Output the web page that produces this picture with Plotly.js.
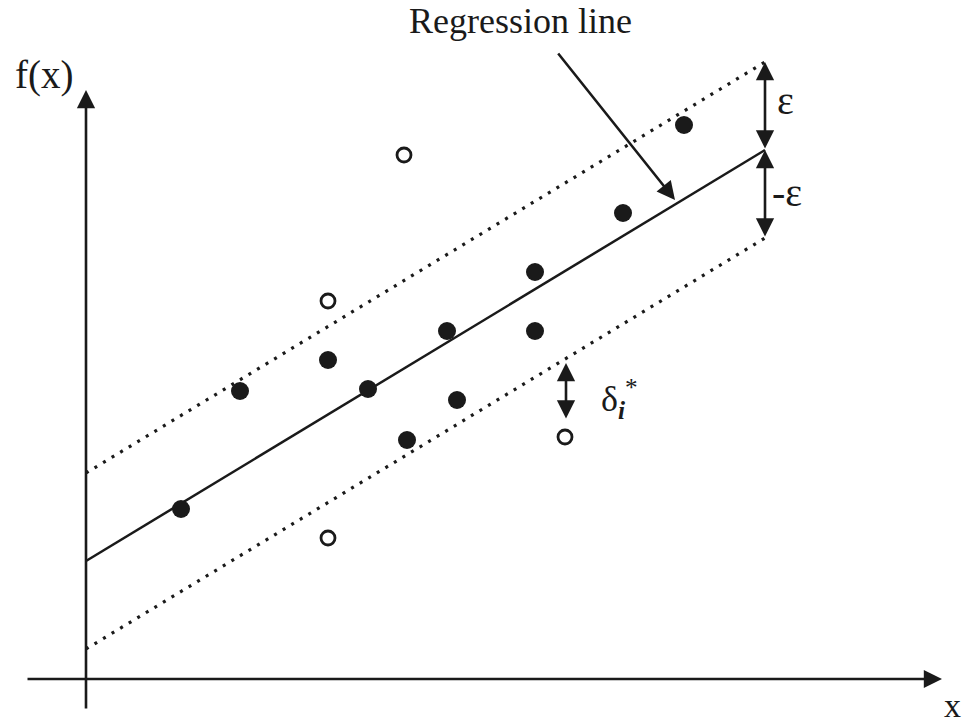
<!DOCTYPE html>
<html>
<head>
<meta charset="utf-8">
<script src="https://cdn.plot.ly/plotly-3.0.1.min.js"></script>
<style>html,body{margin:0;padding:0;background:#fff;}#chart{width:969px;height:727px;}</style>
</head>
<body>
<div id="chart"></div>
<script>
// Support vectors (inside the epsilon tube) – filled circles
const insideX = [9.5, 15.4, 24.2, 28.2, 32.1, 36.1, 37.1, 44.9, 44.9, 53.7, 59.8];
const insideY = [17.0, 28.8, 31.9, 29.0, 23.9, 34.8, 27.9, 40.7, 34.8, 46.6, 55.4];
// Points outside the tube – open circles
const outsideX = [31.8, 24.2, 24.2, 47.9];
const outsideY = [52.4, 37.8, 14.1, 24.2];
// Regression line end points and tube half-width
const lineX = [0, 67.9];
const lineY = [11.8, 52.9];
const epsilon = 8.8;
const upperY = lineY.map(v => v + epsilon);
const lowerY = lineY.map(v => v - epsilon);

const ink = '#1a1a1a';
const serif = 'Liberation Serif, Times New Roman, serif';

const traces = [
  {x: lineX, y: upperY, mode: 'lines', line: {color: ink, width: 3.2, dash: '3px,7px'}, hoverinfo: 'skip'},
  {x: lineX, y: lowerY, mode: 'lines', line: {color: ink, width: 3.2, dash: '3px,7px'}, hoverinfo: 'skip'},
  {x: lineX, y: lineY, mode: 'lines', line: {color: ink, width: 2.5}, hoverinfo: 'skip'},
  {x: insideX, y: insideY, mode: 'markers', marker: {symbol: 'circle', size: 18, color: ink}},
  {x: outsideX, y: outsideY, mode: 'markers', marker: {symbol: 'circle-open', size: 14, color: ink, line: {width: 2.8, color: ink}}}
];

function arrow(x, y, ax, ay, both) {
  return {x: x, y: y, ax: ax, ay: ay, xref: 'x', yref: 'y', axref: 'x', ayref: 'y',
    showarrow: true, arrowhead: 2, startarrowhead: 2, arrowsize: 1.4, startarrowsize: 1.4,
    arrowwidth: 2.6, arrowcolor: ink, arrowside: both ? 'end+start' : 'end', text: ''};
}
function label(x, y, text, size) {
  return {x: x, y: y, xref: 'x', yref: 'y', text: text, showarrow: false,
    font: {family: serif, size: size, color: ink}};
}

const xLabel = label(86.6, -4.6, 'x', 34);
xLabel.yanchor = 'bottom';
xLabel.borderpad = 0;

const annotations = [
  // axes
  arrow(0, 58.9, 0, -3.1, false),
  arrow(85.6, 0, -6.0, 0, false),
  // regression line pointer
  arrow(58.9, 47.9, 47.1, 62.7, false),
  // epsilon arrows
  arrow(lineX[1], upperY[1], lineX[1], lineY[1], true),
  arrow(lineX[1], lineY[1], lineX[1], lowerY[1], true),
  // delta arrow
  arrow(48.0, 31.6, 48.0, 25.9, true),
  label(-4.2, 60.4, 'f(x)', 39),
  xLabel,
  label(43.4, 65.8, 'Regression line', 36),
  label(69.9, 57.9, 'ε', 40),
  label(70.1, 48.7, '-ε', 40),
  label(53.3, 28.0, 'δ<sub><b><i>i</i></b></sub><sup>*</sup>', 36)
];

const layout = {
  width: 969, height: 727,
  margin: {l: 0, r: 0, t: 0, b: 0},
  paper_bgcolor: '#fff', plot_bgcolor: '#fff',
  showlegend: false,
  xaxis: {range: [-8.6, 88.3], visible: false, fixedrange: true},
  yaxis: {range: [-4.8, 67.9], visible: false, fixedrange: true},
  annotations: annotations
};

Plotly.newPlot('chart', traces, layout, {staticPlot: true});
</script>
</body>
</html>
